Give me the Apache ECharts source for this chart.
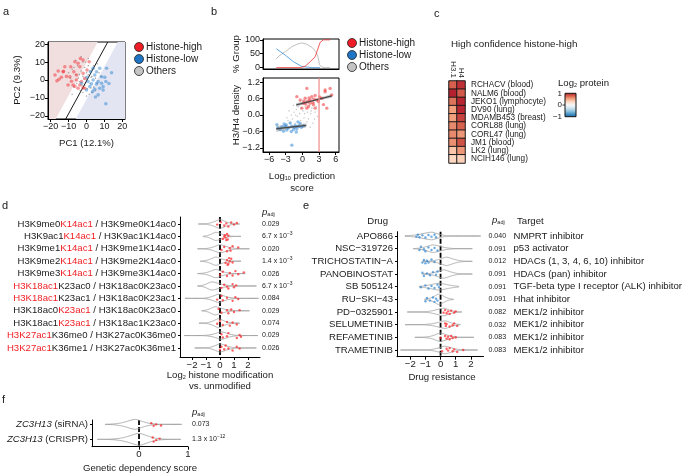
<!DOCTYPE html>
<html><head><meta charset="utf-8">
<script src="https://cdn.jsdelivr.net/npm/echarts@6/dist/echarts.min.js"></script>
<style>html,body{margin:0;padding:0;background:#fff}#c{width:685px;height:473px}</style>
</head><body><div id="c"></div><script>
const FONT = "'Liberation Sans', Arial, Helvetica, sans-serif";

// ---------- panel a : PCA ----------
const aHigh = [[-17.6,2.8],[-15.8,5],[-15.3,0.4],[-14,1.5],[-13,4.6],[-12.1,7.4],[-8.8,7.4],[-6.5,10.2],[-4.7,9.3],[-3.7,7.4],[-3.4,12],[-7.1,4.6],[-9.3,1.8],[-5.6,0],[-2.8,-0.9],[-7.5,-2.8],[-4.7,-4.6],[-1.9,3.7],[-0.9,0.9],[0.3,5.6],[-10.3,-2.8],[1.5,10.2],[-1.9,11.1],[-5.6,2.8],[-3.7,-2.8],[-0.9,-4.6],[-16.5,-0.5],[-11.2,2],[-8.4,-0.7],[-6.5,-3.5],[-1.9,-4.4],[-12.9,4.8]];
const aLow = [[14,4],[11.2,6.5],[7.4,6.5],[5.6,4.6],[8.4,1.8],[10.8,-0.9],[6.5,-0.9],[3.7,0],[4.6,2.8],[0.9,-0.9],[1.8,-3.7],[0,-5.6],[4.6,-5.2],[7.4,-4.6],[9.3,-5.6],[6.5,-8.3],[10.8,-13.3],[9.3,-3.7],[-2.8,-1.8],[2.8,-2.2],[5.6,-2.2],[8.4,-1.8],[10.2,1.5],[2.2,4.6],[3.7,6.5],[0.3,1.5],[3.4,-6.5],[12.5,-2],[5,-9.5]];
const aOther = [[-8,6],[-6,3],[-5,8],[-4,-1],[-3,5],[-2,2],[-1,-3],[0,0],[1,3],[2,-2],[3,6],[4,-4],[5,1],[6,9],[-7,-4],[-9,1],[-2,10],[1,12],[3,-7],[-1,7],[0.5,-5],[2.5,1.5],[-3.5,-6],[-5.5,-2],[4,8],[7,4],[-6,11],[0,4],[1,8],[-4,3],[-1.5,0.5],[-0.5,-1.5],[2,5],[3,2],[-2.5,-3],[5,-6],[-8,-8],[-10,4],[8,2],[-3,13],[0,-9],[6,-2],[-7,7],[1.5,-8],[-0.5,10],[-4.5,1],[2.5,-4.5],[-2,-7]];
const aSep = {slope: 1.83, x0: 0.3, half: 5.6};

// ---------- panel b ----------
const bPctHigh = [[-4.7,0],[-0.4,0],[0.5,5],[1.4,21],[2.3,39],[2.7,62],[3.2,91],[3.8,100],[5.0,100]];
const bPctLow = [[-4.7,68],[-3.1,45],[-1.6,21],[-0.1,4],[1.7,0],[3.2,0]];
const bPctOther = [[-4.7,32],[-4.2,42],[-3.5,52],[-3,58],[-2,74],[-1,84],[-0.1,89],[0.8,84],[1.8,72],[2.4,58],[2.8,40],[3.1,10],[3.5,2],[4.1,0],[5,0]];
const bHigh = [[0.8,0.97],[-1.0,0.67],[1.4,0.55],[2.9,0.49],[3.5,0.61],[5.0,0.97],[4.1,0.85],[5.3,0.73],[0.2,0.43],[1.1,0.31],[2.0,0.37],[2.3,0.25],[1.4,0.43],[0.5,0.61],[1.7,0.67],[0.8,0.25],[-0.1,0.25],[2.6,0.55],[4.4,0.25],[-0.4,0.55],[4.1,0.91],[3.8,0.38],[2.3,0.71],[1.0,0.5],[1.9,0.45],[0.6,0.4],[1.2,0.62],[2.1,0.58],[3.1,0.66],[0.3,0.5]];
const bLow = [[-4.6,-0.35],[-4.0,-0.53],[-3.1,-0.41],[-2.5,-0.47],[-1.9,-0.41],[-1.3,-0.38],[-0.7,-0.41],[-1.9,-1.1],[-2.8,-0.55],[-3.4,-0.59],[-1.6,-0.53],[-1.0,-0.5],[-0.4,-0.31],[-2.2,-0.29],[-3.7,-0.43],[-2.0,-0.6],[-0.8,-0.25],[-1.4,-0.45],[-2.9,-0.36],[-0.2,-0.45],[0.2,-0.4],[-4.4,-0.48],[-3.3,-0.33],[-1.1,-0.62]];
const bOther = [[-3,-0.4],[-2.6,-0.2],[-2.2,-0.3],[-2,0],[-1.8,-0.15],[-1.5,0.1],[-1.3,-0.3],[-1.1,0.2],[-0.9,-0.05],[-0.7,0.3],[-0.5,0.05],[-0.3,-0.2],[-0.1,0.4],[0.1,0.15],[0.3,-0.1],[0.5,0.3],[0.7,0.5],[0.9,0.1],[1.1,-0.15],[1.3,0.35],[1.5,0.05],[1.7,0.25],[1.9,-0.3],[2.1,0.45],[2.3,0.1],[2.5,0.3],[2.7,-0.05],[0,0.55],[-0.4,0.5],[0.6,-0.4],[-1,-0.45],[1.8,0.6],[-2.4,0.15],[0.2,-0.35],[1,0.45],[-1.6,0.35],[2.8,0.55],[-0.2,0.25],[0.8,-0.25],[1.4,-0.45],[-2.8,-0.1],[-1.2,0.0],[0.4,0.05],[1.6,0.15],[2.2,-0.15]];
const bFitLow = [[-4.7,-0.5],[0.7,-0.38]];
const bBandLow = [[-4.7,-0.62,-0.38],[-2,-0.48,-0.40],[0.7,-0.46,-0.30]];
const bFitHigh = [[-1.1,0.37],[5.3,0.70]];
const bBandHigh = [[-1.1,0.30,0.44],[2,0.50,0.56],[5.3,0.63,0.77]];
const bCut = 3;

// ---------- panel c ----------
const cCols = ['H3.1','H4'];
const cRows = ['RCHACV (blood)','NALM6 (blood)','JEKO1 (lymphocyte)','DV90 (lung)','MDAMB453 (breast)','CORL88 (lung)','CORL47 (lung)','JM1 (blood)','LK2 (lung)','NCIH146 (lung)'];
const cVals = [[0.75,0.92],[0.97,0.77],[0.68,0.95],[0.52,0.95],[0.52,0.85],[0.6,0.74],[0.6,0.55],[0.58,0.8],[0.35,0.55],[0.27,0.3]];
const cColors = ['#2166ac','#4393c3','#92c5de','#d1e5f0','#f7f7f7','#fddbc7','#f4a582','#d6604d','#b2182b'];

// ---------- panel d ----------
const dLabels = [['H3K9me0','K14ac1',' / H3K9me0K14ac0'],['H3K9ac1','K14ac1',' / H3K9ac1K14ac0'],['H3K9me1','K14ac1',' / H3K9me1K14ac0'],['H3K9me2','K14ac1',' / H3K9me2K14ac0'],['H3K9me3','K14ac1',' / H3K9me3K14ac0'],['','H3K18ac1','K23ac0 / H3K18ac0K23ac0'],['','H3K18ac1','K23ac1 / H3K18ac0K23ac1'],['H3K18ac0','K23ac1',' / H3K18ac0K23ac0'],['H3K18ac1','K23ac1',' / H3K18ac1K23ac0'],['','H3K27ac1','K36me0 / H3K27ac0K36me0'],['','H3K27ac1','K36me1 / H3K27ac0K36me1']];
const dPadj = ['0.029','6.7e-3','0.020','1.4e-3','0.026','6.7e-3','0.084','0.029','0.074','0.029','0.026'];
// [lo, mode, hi, peak half-height (rows), left spread, right spread]
const dViolins = [[-1.55,0.0,1.4,0.36,0.55,0.55],[-1.2,-0.3,1.5,0.33,0.45,0.6],[-1.6,0.0,2.1,0.33,0.55,0.65],[-1.4,-0.3,1.5,0.33,0.5,0.6],[-1.6,-0.3,1.8,0.33,0.55,0.6],[-1.6,-0.6,2.6,0.33,0.45,0.8],[-2.5,-0.1,2.75,0.33,0.55,0.6],[-1.3,-0.35,2.1,0.33,0.45,0.7],[-1.5,-0.1,1.4,0.36,0.5,0.5],[-2.55,0.1,2.7,0.3,0.6,0.6],[-1.8,0.0,2.6,0.33,0.5,0.6]];
// points: [value, jitter (rows)]
const dPts = [
 [[-0.2,0.05],[0.05,-0.15],[0.3,0.12],[0.45,-0.05],[0.6,0.2],[0.8,-0.12],[1.0,0.05],[1.2,-0.08]],
 [[0.2,0.2],[0.35,-0.1],[0.4,0.1],[0.5,-0.2],[0.55,0.25],[0.6,-0.05],[0.45,0.3],[0.3,0.0]],
 [[0.1,0.1],[0.3,-0.15],[0.5,0.2],[0.7,-0.05],[0.75,0.15],[0.9,-0.2],[1.3,-0.1]],
 [[0.4,0.15],[0.5,-0.1],[0.6,0.2],[0.7,0.0],[0.8,-0.2],[0.9,0.1],[0.55,0.3],[0.65,-0.25]],
 [[0.0,0.1],[0.2,-0.15],[0.5,0.2],[0.7,-0.05],[0.9,0.15],[1.1,-0.2],[1.3,0.05],[1.7,-0.1]],
 [[0.1,0.15],[0.3,-0.1],[0.5,0.05],[0.6,0.2],[0.9,-0.15],[1.0,0.1],[1.15,-0.05]],
 [[-0.2,0.1],[0.1,-0.2],[0.2,0.15],[0.5,-0.05],[0.9,0.2],[1.1,-0.1],[1.3,0.05]],
 [[-0.1,-0.15],[0.1,0.15],[0.5,-0.05],[0.6,0.2],[0.8,-0.1],[1.0,0.1],[1.4,-0.05]],
 [[-0.2,0.05],[0.0,-0.2],[0.2,0.15],[0.5,-0.1],[0.7,0.2],[0.9,-0.05],[1.2,0.1]],
 [[0.1,-0.1],[0.2,0.15],[0.5,0.05],[0.6,-0.2],[1.2,0.2],[1.4,-0.05],[1.5,0.1]],
 [[0.0,0.15],[0.1,-0.1],[0.3,0.1],[0.4,-0.2],[0.6,0.05],[0.9,0.2],[1.2,-0.1],[1.4,0.05]]];

// ---------- panel e ----------
const eDrugs = ['APO866','NSC\u2212319726','TRICHOSTATIN\u2212A','PANOBINOSTAT','SB 505124','RU\u2212SKI\u221243','PD\u22120325901','SELUMETINIB','REFAMETINIB','TRAMETINIB'];
const ePadj = ['0.040','0.091','0.012','0.091','0.091','0.091','0.082','0.032','0.083','0.083'];
const eTargets = ['NMPRT inhibitor','p53 activator','HDACs (1, 3, 4, 6, 10) inhibitor','HDACs (pan) inhibitor','TGF-beta type I receptor (ALK) inhibitor','Hhat inhibitor','MEK1/2 inhibitor','MEK1/2 inhibitor','MEK1/2 inhibitor','MEK1/2 inhibitor'];
const eViolins = [[-2.35,-0.6,2.65,0.3,0.9,0.6],[-1.8,-0.5,2.1,0.3,0.6,0.7],[-1.2,0.4,2.1,0.33,0.6,0.6],[-1.2,0.2,2.1,0.33,0.6,0.6],[-1.4,-0.1,1.2,0.27,0.8,0.8],[-1.05,-0.1,0.85,0.42,0.45,0.45],[-2.2,0.2,1.4,0.3,0.7,0.5],[-2.35,0.3,1.3,0.3,0.7,0.5],[-1.7,0.0,2.2,0.33,0.55,0.6],[-2.65,0.3,2.45,0.3,0.6,0.6]];
const eGroup = ['low','low','low','low','low','low','high','high','high','high'];
const ePts = [
 [[-1.6,0.05],[-1.5,-0.1],[-1.4,0.1],[-1.2,-0.05],[-1.0,0.12],[-0.8,-0.08],[-0.6,0.05],[-0.4,-0.1],[-0.3,0.1]],
 [[-1.4,0.1],[-1.3,-0.15],[-1.1,0.05],[-1.0,0.2],[-0.8,-0.1],[-0.6,0.1],[-0.4,-0.05],[-0.2,0.15]],
 [[-1.2,0.1],[-1.1,-0.1],[-1.0,0.15],[-0.9,-0.05],[-0.8,0.1],[-0.6,-0.15],[-0.4,0.05]],
 [[-1.2,-0.1],[-1.1,0.15],[-0.9,-0.05],[-0.7,0.1],[-0.5,-0.15],[-0.3,0.05],[-0.2,-0.2]],
 [[-1.3,0.05],[-1.0,-0.1],[-0.8,0.15],[-0.6,-0.05],[-0.4,0.1],[-0.2,-0.15],[-0.1,0.05]],
 [[-1.0,0.15],[-0.9,-0.1],[-0.7,0.1],[-0.5,-0.15],[-0.4,0.2],[-0.3,-0.05],[-0.2,0.1]],
 [[0.2,0.05],[0.3,-0.15],[0.4,0.1],[0.5,-0.05],[0.6,0.15],[0.7,-0.1],[0.9,0.05],[1.0,-0.05]],
 [[0.3,-0.1],[0.35,0.1],[0.4,-0.05],[0.6,0.15],[0.8,0.05],[0.9,-0.1],[1.1,0.1]],
 [[0.0,0.05],[0.3,-0.1],[0.4,0.1],[0.5,-0.05],[0.6,0.15],[0.7,-0.1],[0.8,0.05],[1.0,0.0]],
 [[0.1,0.1],[0.4,-0.1],[0.5,0.05],[0.6,-0.15],[0.8,0.1],[0.9,-0.05],[1.1,0.15],[1.5,0.0]]];

// ---------- panel f ----------
const fLabels = [['ZC3H13',' (siRNA)'],['ZC3H13',' (CRISPR)']];
const fPadj = ['0.073','1.3e-12'];
const fViolins = [[-0.69,-0.08,0.87,0.33,0.25,0.22],[-0.85,0.0,0.85,0.4,0.28,0.25]];
const fPts = [[[0.25,-0.08],[0.3,0.1],[0.35,0.0],[0.45,0.08]],[[0.28,-0.12],[0.35,0.05],[0.3,0.15],[0.42,-0.05]]];

// ---------- helpers ----------
const minusFmt = v => (v < 0 ? '\u2212' : '') + Math.abs(v);
const padjFmt = s => {
  if (s.indexOf('e') < 0) return '{p|' + s + '}';
  const parts = s.split('e');
  return '{p|' + parts[0] + ' x 10}{sp|' + parts[1].replace('-', '\u2212') + '}';
};
const padjRich = {p:{fontSize:7,color:'#1a1a1a',fontFamily:FONT}, sp:{fontSize:5,color:'#1a1a1a',fontFamily:FONT,padding:[0,0,5,0]}};
const ax = {
  line: {show:true,onZero:false,lineStyle:{color:'#000',width:1}},
  tick: {show:true,length:3,lineStyle:{color:'#000',width:1}},
  label: {color:'#1a1a1a',fontSize:9,fontFamily:FONT,margin:3}
};
function valAxis(grid, min, max, ticks, opt) {
  opt = opt || {};
  return {
    type:'value', gridIndex:grid, min:min, max:max, inverse:!!opt.inverse, position:opt.position,
    axisLine: Object.assign({}, ax.line, opt.line||{}),
    axisTick: Object.assign({}, ax.tick, {customValues:ticks}, opt.tick||{}),
    axisLabel: Object.assign({}, ax.label, {customValues:ticks, formatter: opt.fmt || minusFmt}, opt.label||{}),
    splitLine:{show:false}
  };
}
function violinSeries(list, xi, yi) {
  return {
    type:'custom', xAxisIndex:xi, yAxisIndex:yi, silent:true, clip:false,
    data: list.map((v,i)=>[v[1], i]), encode:{x:0,y:1},
    renderItem: function(params, api) {
      const v = list[params.dataIndex];
      const row = params.dataIndex;
      const band = Math.abs(api.size([0,1])[1]);
      const N = 80, top = [], bot = [];
      for (let i=0;i<=N;i++) {
        const x = v[0] + (v[2]-v[0])*i/N;
        const s = x < v[1] ? v[4] : v[5];
        const h = v[3]*band*Math.exp(-Math.pow(Math.abs(x-v[1])/s, 1.6));
        const p = api.coord([x,row]);
        top.push([p[0], p[1]-h]); bot.push([p[0], p[1]+h]);
      }
      return {type:'polygon', shape:{points: top.concat(bot.reverse())},
        style:{fill:'rgba(255,255,255,0)', stroke:'#9d9d9d', lineWidth:0.8}};
    }
  };
}
function ptsData(rows) {
  const out = [];
  rows.forEach((r,i)=> r.forEach(p => out.push([p[0], i + p[1]])));
  return out;
}
function zeroLine(xi, yi, lo, hi) {
  return {type:'line', xAxisIndex:xi, yAxisIndex:yi, data:[[0,lo],[0,hi]], symbol:'none', silent:true,
    lineStyle:{color:'#000', width:1.8, type:[5,2]}, z:1};
}
function bandSeries(band, xi, yi) {
  return {type:'custom', xAxisIndex:xi, yAxisIndex:yi, silent:true, data:[[band[0][0], band[0][1]]],
    renderItem: function(params, api) {
      const up = band.map(d=>api.coord([d[0], d[2]]));
      const lo = band.map(d=>api.coord([d[0], d[1]])).reverse();
      return {type:'polygon', shape:{points: up.concat(lo)}, style:{fill:'rgba(140,140,140,0.45)'}};
    }};
}
function polySeries(poly, color, xi, yi) {
  return {type:'custom', xAxisIndex:xi, yAxisIndex:yi, silent:true, data:[poly[0]], z:0,
    renderItem: function(params, api) {
      return {type:'polygon', shape:{points: poly.map(p=>api.coord(p))}, style:{fill:color}};
    }};
}

// derived separator geometry for panel a
const aXmin=-21.5, aXmax=21.5, aYmin=-21.8, aYmax=21.2;
const sepX = (y, off) => aSep.x0 + off + y / aSep.slope;
const aPink = [[aXmin,aYmin],[sepX(aYmin,-aSep.half),aYmin],[sepX(aYmax,-aSep.half),aYmax],[aXmin,aYmax]];
const aBlue = [[sepX(aYmin,aSep.half),aYmin],[aXmax,aYmin],[aXmax,aYmax],[sepX(aYmax,aSep.half),aYmax]];
const aLine = [[sepX(aYmin,0),aYmin],[sepX(aYmax,0),aYmax]];

// ---------- grids ----------
const grids = [
  {left:48, top:42, width:77, height:77, show:true, borderColor:'#000', borderWidth:1},   // a
  {left:263, top:39, width:76, height:30, show:true, borderColor:'#000', borderWidth:1},  // b top
  {left:263, top:78, width:76, height:74, show:true, borderColor:'#000', borderWidth:1},  // b bottom
  {left:449, top:81, width:16, height:82},   // c
  {left:180, top:217, width:80, height:140}, // d
  {left:397, top:231.7, width:90, height:125}, // e
  {left:92, top:420, width:96, height:26.7}  // f
];

const xAxes = [
  valAxis(0, aXmin, aXmax, [-20,-10,0,10,20]),
  valAxis(1, -7.1, 6.6, [], {label:{show:false}, tick:{show:false}}),
  valAxis(2, -7.1, 6.6, [-6,-3,0,3,6]),
  {type:'category', gridIndex:3, data:cCols, position:'top', axisLine:{show:false}, axisTick:{show:false},
    axisLabel:{rotate:90, interval:0, fontSize:8, color:'#1a1a1a', fontFamily:FONT, margin:3}},
  valAxis(4, -2.857, 2.857, [-2,-1,0,1,2], {label:{fontSize:9.6}}),
  valAxis(5, -2.88, 2.84, [-2,-1,0,1,2], {label:{fontSize:9.6}}),
  valAxis(6, -0.96, 1.0, [0,1], {label:{fontSize:9.6}})
];
const rowsIdx = n => Array.from({length:n}, (_,i)=>i);
const yAxes = [
  valAxis(0, aYmin, aYmax, [-20,-10,0,10,20]),
  valAxis(1, -5, 103, [0,50,100]),
  valAxis(2, -1.35, 1.35, [-1.2,-0.6,0,0.6,1.2], {fmt: v => (v<0?'\u2212':'') + Math.abs(v).toFixed(1)}),
  {type:'category', gridIndex:3, data:cRows, inverse:true, position:'right', axisLine:{show:false}, axisTick:{show:false},
    axisLabel:{interval:0, fontSize:8.2, color:'#1a1a1a', fontFamily:FONT, margin:6}},
  valAxis(4, -0.565, 10.73, rowsIdx(11), {inverse:true, tick:{length:2},
    fmt: v => { const l = dLabels[v]; return (l[0]?'{k|'+l[0]+'}':'') + '{r|'+l[1]+'}' + '{k|'+l[2]+'}'; },
    label:{margin:4, rich:{k:{fontSize:9.6,color:'#1a1a1a',fontFamily:FONT}, r:{fontSize:9.6,color:'#f01e23',fontFamily:FONT}}}}),
  valAxis(5, -0.34, 9.53, rowsIdx(10), {inverse:true, tick:{length:2}, fmt: v => eDrugs[v], label:{fontSize:9.6, margin:4}}),
  valAxis(6, -0.29, 1.49, [0,1], {inverse:true, tick:{length:2},
    fmt: v => '{i|' + fLabels[v][0] + '}{k|' + fLabels[v][1] + '}',
    label:{margin:4, rich:{i:{fontSize:9.6,fontStyle:'italic',color:'#1a1a1a',fontFamily:FONT}, k:{fontSize:9.6,color:'#1a1a1a',fontFamily:FONT}}}}),
  valAxis(4, -0.565, 10.73, rowsIdx(11), {inverse:true, position:'right', line:{show:false}, tick:{show:false},
    fmt: v => padjFmt(dPadj[v]), label:{margin:2, rich:padjRich}}),
  valAxis(5, -0.34, 9.53, rowsIdx(10), {inverse:true, position:'right', line:{show:false}, tick:{show:false},
    fmt: v => padjFmt(ePadj[v]) + '{t|' + eTargets[v] + '}',
    label:{margin:5, rich:Object.assign({t:{fontSize:9.6,color:'#1a1a1a',fontFamily:FONT}}, padjRich, {p:{fontSize:7,width:25,color:'#1a1a1a',fontFamily:FONT}})}}),
  valAxis(6, -0.29, 1.49, [0,1], {inverse:true, position:'right', line:{show:false}, tick:{show:false},
    fmt: v => padjFmt(fPadj[v]), label:{margin:4, rich:padjRich}})
];

const sc = (data, xi, yi, color, size, z) => ({type:'scatter', xAxisIndex:xi, yAxisIndex:yi, data:data, symbolSize:size, silent:true,
  itemStyle:{color:color}, z:z||2});
const ln = (data, xi, yi, color, w, z) => ({type:'line', xAxisIndex:xi, yAxisIndex:yi, data:data, symbol:'none', silent:true,
  lineStyle:{color:color, width:w}, z:z||2});

const series = [];
series.push(polySeries(aPink, '#f1dede', 0, 0));
series.push(polySeries(aBlue, '#e3e5f3', 0, 0));
series.push(ln(aLine, 0, 0, '#1a1a1a', 1, 3));
series.push(sc(aOther, 0, 0, 'rgba(110,110,110,0.7)', 1.6));
series.push(sc(aHigh, 0, 0, 'rgba(240,40,45,0.6)', 3.6, 4));
series.push(sc(aLow, 0, 0, 'rgba(40,130,210,0.6)', 3.6, 4));
series.push(ln(bPctOther, 1, 1, '#b0b0b0', 0.8));
series.push(ln(bPctLow, 1, 1, '#3a8fd6', 0.8));
series.push(ln(bPctHigh, 1, 1, '#f03030', 0.8));
series.push(sc(bOther, 2, 2, 'rgba(150,150,150,0.6)', 1.6));
series.push(sc(bLow, 2, 2, 'rgba(40,130,210,0.65)', 3.4, 3));
series.push(sc(bHigh, 2, 2, 'rgba(240,40,45,0.65)', 3.4, 3));
series.push(bandSeries(bBandLow, 2, 2));
series.push(bandSeries(bBandHigh, 2, 2));
series.push(ln(bFitLow, 2, 2, '#4a4a4a', 1.4, 5));
series.push(ln(bFitHigh, 2, 2, '#4a4a4a', 1.4, 5));
series.push(ln([[bCut,-1.35],[bCut,1.35]], 2, 2, '#f08a8a', 1.2, 6));
const heatIdx = series.length;
const heatData = [];
cVals.forEach((r,i)=> r.forEach((v,j)=> heatData.push([j,i,v])));
series.push({type:'heatmap', xAxisIndex:3, yAxisIndex:3, data:heatData, silent:true,
  itemStyle:{borderColor:'#1a1a1a', borderWidth:1}});
series.push(violinSeries(dViolins, 4, 4));
series.push(zeroLine(4, 4, -0.565, 10.73));
series.push(sc(ptsData(dPts), 4, 4, 'rgba(255,25,30,0.85)', 2.4, 4));
series.push(violinSeries(eViolins, 5, 5));
series.push(zeroLine(5, 5, -0.34, 9.53));
series.push(sc(ptsData(ePts.map((r,i)=> eGroup[i]==='low'? r : [])), 5, 5, 'rgba(40,130,210,0.85)', 2.4, 4));
series.push(sc(ptsData(ePts.map((r,i)=> eGroup[i]==='high'? r : [])), 5, 5, 'rgba(255,25,30,0.85)', 2.4, 4));
series.push(violinSeries(fViolins, 6, 6));
series.push(zeroLine(6, 6, -0.29, 1.49));
series.push(sc(ptsData(fPts), 6, 6, 'rgba(255,25,30,0.85)', 2.4, 4));

// ---------- text / legend graphics ----------
const T = (x, y, text, o) => Object.assign({type:'text', x:x, y:y, silent:true,
  style:Object.assign({text:text, fill:'#1a1a1a', font:'9.6px ' + FONT, textAlign:'left', textVerticalAlign:'middle'}, (o&&o.style)||{})},
  o && o.rotation !== undefined ? {rotation:o.rotation} : {});
const richBase = {fontSize:9.6, fontFamily:FONT, fill:'#1a1a1a'};
const legend = (x, y0, dy) => [['Histone-high','#ee1c24'],['Histone-low','#1f75c4'],['Others','#c4c4c4']].flatMap((e,i)=>[
  {type:'circle', shape:{cx:x, cy:y0+i*dy, r:4.5}, style:{fill:e[1], stroke:'#222', lineWidth:0.8}, silent:true},
  T(x+7, y0+i*dy, e[0], {style:{font:'10px ' + FONT}})
]);
const graphics = [
  T(3, 12, 'a', {style:{font:'11px ' + FONT}}),
  T(211, 12, 'b', {style:{font:'11px ' + FONT}}),
  T(434, 14, 'c', {style:{font:'11px ' + FONT}}),
  T(2, 206, 'd', {style:{font:'11px ' + FONT}}),
  T(303, 206, 'e', {style:{font:'11px ' + FONT}}),
  T(2, 400, 'f', {style:{font:'11px ' + FONT}}),
  T(17, 80, 'PC2 (9.3%)', {rotation:Math.PI/2, style:{textAlign:'center'}}),
  T(86.5, 143, 'PC1 (12.1%)', {style:{textAlign:'center'}}),
  T(236, 54, '% Group', {rotation:Math.PI/2, style:{textAlign:'center'}}),
  T(236, 115, 'H3/H4 density', {rotation:Math.PI/2, style:{textAlign:'center'}}),
  {type:'text', x:302, y:176, silent:true, style:{text:'{a|Log}{s|10}{a| prediction}', textAlign:'center', textVerticalAlign:'middle',
    rich:{a:richBase, s:{fontSize:5.5, fontFamily:FONT, fill:'#1a1a1a', padding:[5,0,0,0]}}}},
  T(302, 188, 'score', {style:{textAlign:'center'}}),
  T(451, 44, 'High confidence histone-high', {style:{font:'9.8px ' + FONT}}),
  {type:'text', x:558, y:83, silent:true, style:{text:'{a|Log}{s|2}{a| protein}', textAlign:'left', textVerticalAlign:'middle',
    rich:{a:richBase, s:{fontSize:5.5, fontFamily:FONT, fill:'#1a1a1a', padding:[5,0,0,0]}}}},
  {type:'rect', shape:{x:565, y:93.3, width:11, height:23.4}, silent:true,
    style:{stroke:'#111', lineWidth:1, fill:{type:'linear', x:0, y:0, x2:0, y2:1,
      colorStops: cColors.slice().reverse().map((c,i,arr)=>({offset:i/(arr.length-1), color:c}))}}},
  T(562, 93.5, '1', {style:{font:'8px ' + FONT, textAlign:'right'}}),
  T(562, 105, '0', {style:{font:'8px ' + FONT, textAlign:'right'}}),
  T(562, 116.5, '\u22121', {style:{font:'8px ' + FONT, textAlign:'right'}}),
  {type:'line', shape:{x1:562.5, y1:105, x2:565, y2:105}, style:{stroke:'#111', lineWidth:0.8}, silent:true},
  {type:'text', x:262, y:212, silent:true, style:{text:'{i|p}{s|adj}', textAlign:'left', textVerticalAlign:'middle',
    rich:{i:{fontSize:9.6, fontStyle:'italic', fontFamily:FONT, fill:'#1a1a1a'}, s:{fontSize:5.5, fontFamily:FONT, fill:'#1a1a1a', padding:[5,0,0,0]}}}},
  {type:'text', x:220, y:375, silent:true, style:{text:'{a|Log}{s|2}{a| histone modification}', textAlign:'center', textVerticalAlign:'middle',
    rich:{a:richBase, s:{fontSize:5.5, fontFamily:FONT, fill:'#1a1a1a', padding:[5,0,0,0]}}}},
  T(220, 386, 'vs. unmodified', {style:{textAlign:'center'}}),
  T(388, 221, 'Drug', {style:{textAlign:'right'}}),
  {type:'text', x:492, y:220, silent:true, style:{text:'{i|p}{s|adj}', textAlign:'left', textVerticalAlign:'middle',
    rich:{i:{fontSize:9.6, fontStyle:'italic', fontFamily:FONT, fill:'#1a1a1a'}, s:{fontSize:5.5, fontFamily:FONT, fill:'#1a1a1a', padding:[5,0,0,0]}}}},
  T(517, 221, 'Target'),
  T(442, 377, 'Drug resistance', {style:{textAlign:'center'}}),
  {type:'text', x:192, y:412, silent:true, style:{text:'{i|p}{s|adj}', textAlign:'left', textVerticalAlign:'middle',
    rich:{i:{fontSize:9.6, fontStyle:'italic', fontFamily:FONT, fill:'#1a1a1a'}, s:{fontSize:5.5, fontFamily:FONT, fill:'#1a1a1a', padding:[5,0,0,0]}}}},
  T(140, 468, 'Genetic dependency score', {style:{textAlign:'center'}})
].concat(legend(139, 47, 12)).concat(legend(352, 43, 12));

const chart = echarts.init(document.getElementById('c'), null, {renderer:'canvas'});
chart.setOption({
  animation:false,
  backgroundColor:'#ffffff',
  textStyle:{fontFamily:FONT},
  grid:grids, xAxis:xAxes, yAxis:yAxes,
  visualMap:[{show:false, type:'continuous', min:-1, max:1, seriesIndex:heatIdx, dimension:2, inRange:{color:cColors}}],
  series:series,
  graphic:graphics
});
</script></body></html>
